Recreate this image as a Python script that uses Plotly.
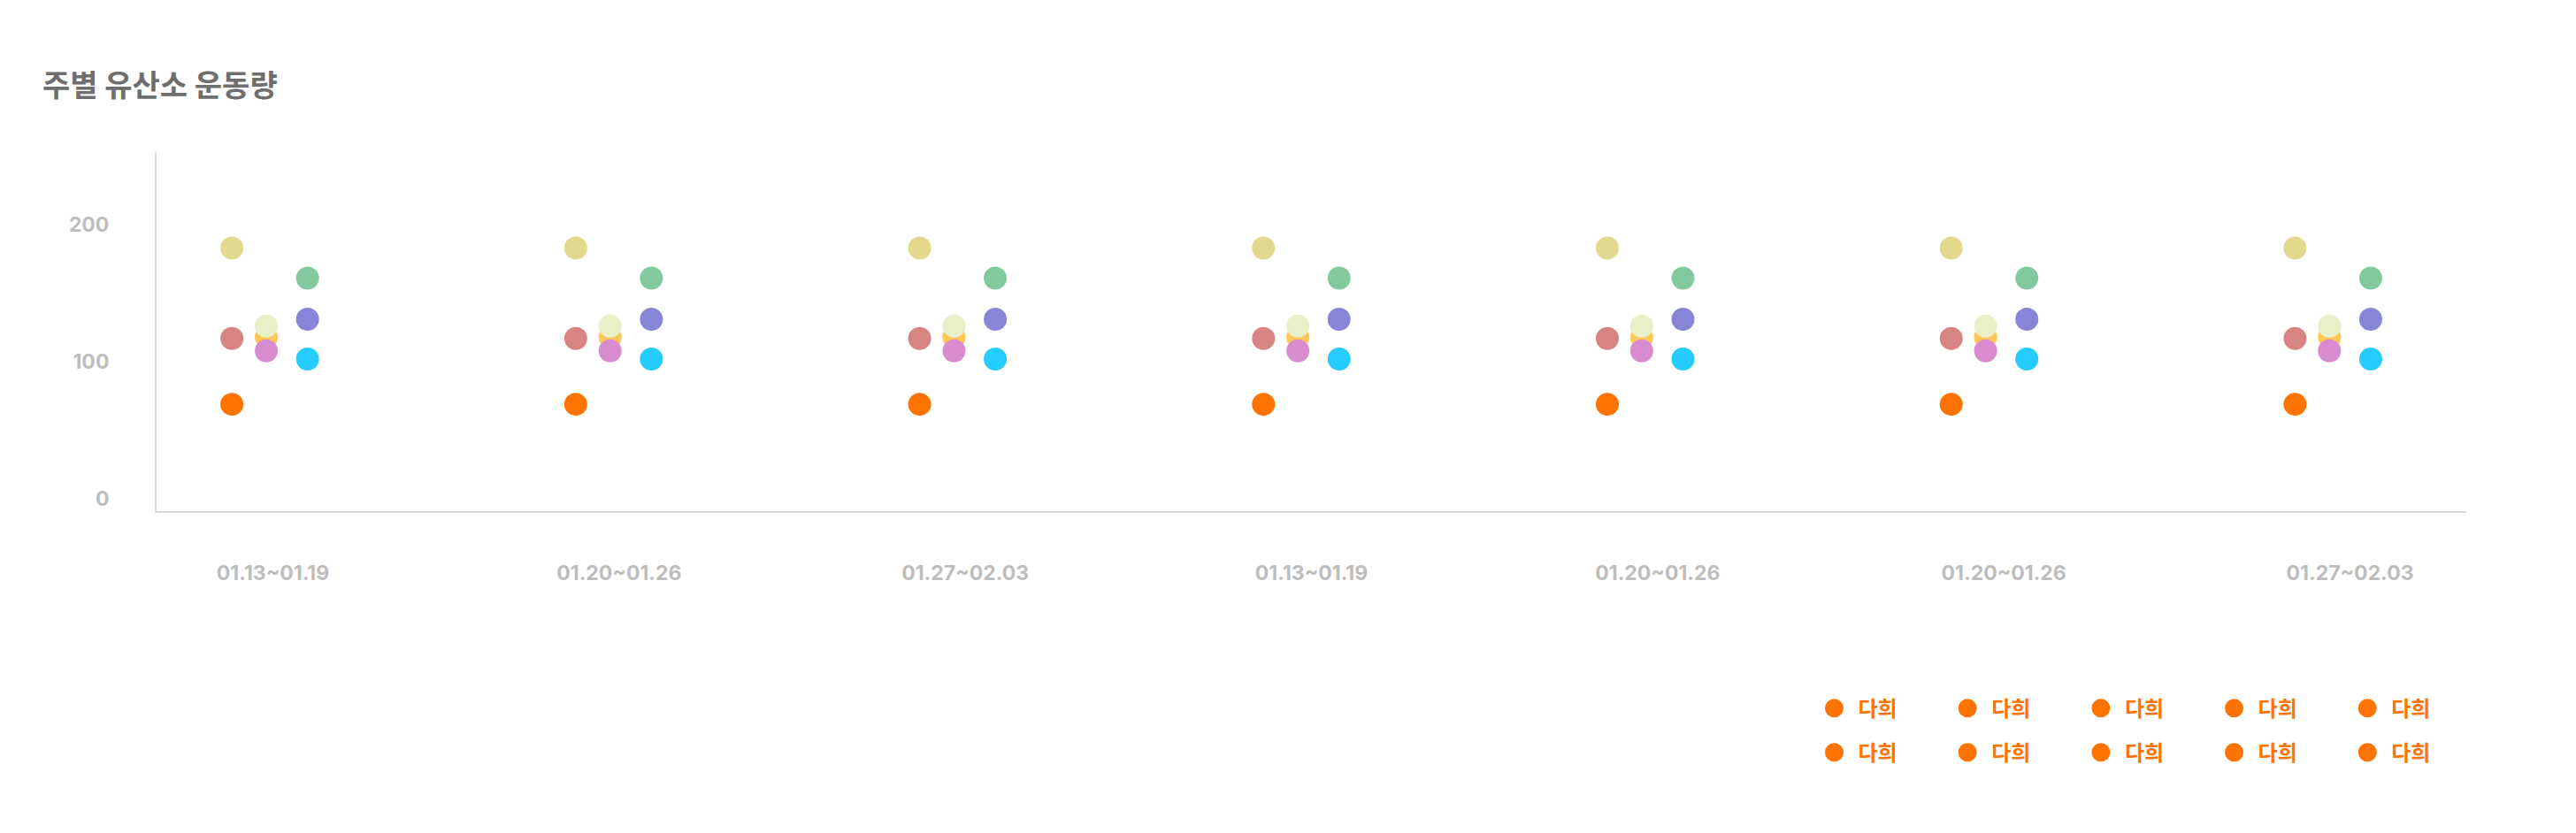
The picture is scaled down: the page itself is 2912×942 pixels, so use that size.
import plotly.graph_objects as go

# ---------------- data ----------------
categories = ["01.13~01.19", "01.20~01.26", "01.27~02.03", "01.13~01.19",
              "01.20~01.26", "01.20~01.26", "01.27~02.03"]

s_orange = [69, 69, 69, 69, 69, 69, 69]
s_red = [117, 117, 117, 117, 117, 117, 117]
s_khaki = [183, 183, 183, 183, 183, 183, 183]
s_amber = [118, 118, 118, 118, 118, 118, 118]
s_cream = [126, 126, 126, 126, 126, 126, 126]
s_pink = [108, 108, 108, 108, 108, 108, 108]
s_cyan = [102, 102, 102, 102, 102, 102, 102]
s_purple = [131, 131, 131, 131, 131, 131, 131]
s_green = [161, 161, 161, 161, 161, 161, 161]

legend_labels = ["다희"] * 10
y_ticks = [0, 100, 200]

# ---------------- styles ----------------
series = [
    (s_orange, "#FF7300", -0.1),
    (s_red, "#D78483", -0.1),
    (s_khaki, "#E2D88E", -0.1),
    (s_amber, "#FFC658", 0.0),
    (s_cream, "#E8F0C8", 0.0),
    (s_pink, "#D88BCF", 0.0),
    (s_cyan, "#24CCFF", 0.12),
    (s_purple, "#8884D8", 0.12),
    (s_green, "#82CA9D", 0.12),
]

# the page body has an 8px default margin; compensate so the chart sits where intended
PAGE_OFF = 8
W, H = 2912 - PAGE_OFF, 942 - PAGE_OFF

fig = go.Figure()
for vals, color, off in series:
    fig.add_trace(go.Scatter(
        x=[i + off for i in range(len(vals))], y=vals,
        mode="markers", xaxis="x2", yaxis="y",
        marker=dict(size=26, color=color, line=dict(width=0)),
        showlegend=False, hoverinfo="skip"))

for i, lab in enumerate(legend_labels):
    fig.add_trace(go.Scatter(
        x=[None], y=[None], mode="markers", name=lab,
        marker=dict(size=26, color="#FF7300", line=dict(width=5, color="#FF7300")),
        legend="legend" if i < 5 else "legend2"))

tick_font = dict(family="Inter", size=23, color="#BDBDBD", weight="bold")
leg_common = dict(orientation="h", xanchor="left", yanchor="middle",
                  entrywidth=91.7, itemwidth=44, bgcolor="rgba(0,0,0,0)",
                  font=dict(family="Noto Sans CJK KR", size=24, color="#FF7300", weight="bold"))

fig.update_layout(
    width=W, height=H, autosize=False,
    paper_bgcolor="white", plot_bgcolor="white",
    margin=dict(l=177 - PAGE_OFF, r=124, t=172 - PAGE_OFF, b=364),
    title=dict(text="주별 유산소 운동량", x=(48 - PAGE_OFF) / W, xref="container", xanchor="left",
               y=1 - (97 - PAGE_OFF) / H, yref="container", yanchor="middle",
               font=dict(family="Noto Sans CJK KR", size=34, color="#6E6E6E", weight="bold")),
    xaxis=dict(range=[-0.336, 6.336], tickmode="array", tickvals=list(range(len(categories))),
               ticktext=categories, showgrid=False, zeroline=False, showline=True,
               linecolor="#D9D9D9", linewidth=2, ticks="", tickfont=tick_font,
               ticklabelstandoff=48),
    xaxis2=dict(range=[-0.319, 6.398], overlaying="x", visible=False, anchor="y"),
    yaxis=dict(range=[-9, 253], tickmode="array", tickvals=y_ticks, showgrid=False,
               zeroline=False, showline=True, linecolor="#D9D9D9", linewidth=2, ticks="",
               tickfont=tick_font, ticklabelstandoff=47),
    legend=dict(x=0.7160, y=-0.5498, **leg_common),
    legend2=dict(x=0.7160, y=-0.6729, **leg_common),
)

fig.write_html("out.html")
